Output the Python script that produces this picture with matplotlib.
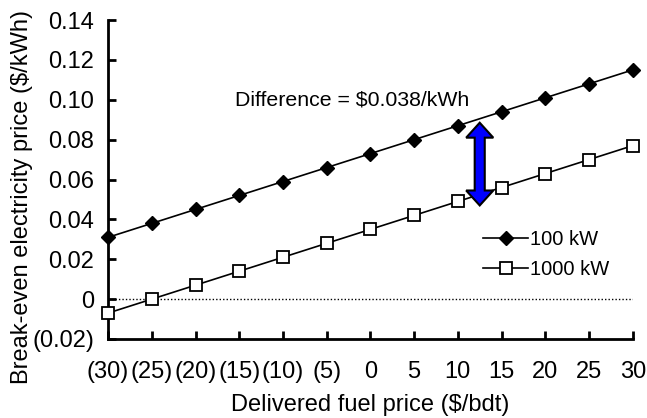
import numpy as np
import matplotlib
matplotlib.use("Agg")
import matplotlib.pyplot as plt
from matplotlib.patches import Polygon
from matplotlib.ticker import FuncFormatter, MultipleLocator

plt.rcParams['font.family'] = ['Liberation Sans', 'DejaVu Sans']

# delivered fuel price ($/bdt)
fuel_price = [-30, -25, -20, -15, -10, -5, 0, 5, 10, 15, 20, 25, 30]
# break-even electricity price ($/kWh)
price_100kw = [0.031, 0.038, 0.045, 0.052, 0.059, 0.066, 0.073, 0.080,
               0.087, 0.094, 0.101, 0.108, 0.115]
price_1000kw = [-0.007, 0.000, 0.007, 0.014, 0.021, 0.028, 0.035, 0.042,
                0.049, 0.056, 0.063, 0.070, 0.077]

diff_label = "Difference = $0.038/kWh"
arrow_x = 8.5          # between the 10 and 15 categories
arrow_top = 0.0885
arrow_bottom = 0.0470


def paren(v):
    if v == 0:
        return "0"
    if v < 0:
        return f"({-v:g})"
    return f"{v:g}"


def ytick_fmt(v, pos):
    if abs(v) < 1e-9:
        return "0"
    if v < 0:
        return f"({-v:.2f})"
    return f"{v:.2f}"


W, H = 647, 418
fig = plt.figure(figsize=(W / 100, H / 100), dpi=100)
ax = fig.add_axes([0.167, 0.189, 0.811, 0.763])

x = np.arange(len(fuel_price))
ax.axhline(0, color='black', lw=1, ls=(0, (1, 1.5)), zorder=1)
ax.plot(x, price_100kw, color='black', lw=1.2, marker='D', ms=7.5,
        mfc='black', mec='black', label='100 kW', zorder=3, clip_on=False)
ax.plot(x, price_1000kw, color='black', lw=1.2, marker='s', ms=8.5,
        mfc='white', mec='black', mew=1.3, label='1000 kW', zorder=3, clip_on=False)

# fat double-headed arrow
sw, hw, hl = 0.115, 0.31, 0.0075
pts = [(arrow_x, arrow_top),
       (arrow_x + hw, arrow_top - hl), (arrow_x + sw, arrow_top - hl),
       (arrow_x + sw, arrow_bottom + hl), (arrow_x + hw, arrow_bottom + hl),
       (arrow_x, arrow_bottom),
       (arrow_x - hw, arrow_bottom + hl), (arrow_x - sw, arrow_bottom + hl),
       (arrow_x - sw, arrow_top - hl), (arrow_x - hw, arrow_top - hl)]
ax.add_patch(Polygon(pts, closed=True, fc='#0000ff', ec='black', lw=1.5, zorder=4))

ax.text(2.9, 0.0998, diff_label, fontsize=15.3, va='center', ha='left')

ax.set_xlim(0, len(fuel_price) - 1)
ax.set_ylim(-0.02, 0.14)
ax.set_xticks(x)
ax.set_xticklabels([paren(v) for v in fuel_price])
ax.yaxis.set_major_locator(MultipleLocator(0.02))
ax.yaxis.set_major_formatter(FuncFormatter(ytick_fmt))

for s in ['top', 'right']:
    ax.spines[s].set_visible(False)
for s in ['left', 'bottom']:
    ax.spines[s].set_linewidth(2)
ax.tick_params(direction='in', length=6, width=2, labelsize=17)
ax.tick_params(axis='x', pad=16)
ax.tick_params(axis='y', pad=10)

ax.set_xlabel('Delivered fuel price ($/bdt)', fontsize=17, labelpad=8)
fig.text(22 / W, 1 - 197 / H, 'Break-even electricity price ($/kWh)',
         fontsize=17, rotation=90, ha='center', va='center')

ax.legend(loc='center left', bbox_to_anchor=(0.70, 0.266), frameon=False,
          fontsize=14.5, handlelength=2.2, handletextpad=0.1, labelspacing=0.55,
          borderaxespad=0)

fig.savefig('out.png', dpi=100)
